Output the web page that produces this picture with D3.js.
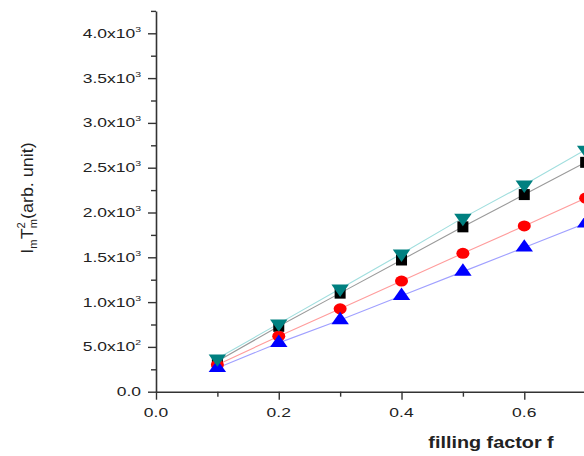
<!DOCTYPE html>
<html><head><meta charset="utf-8">
<script src="https://cdn.jsdelivr.net/npm/d3@7/dist/d3.min.js"></script>
<style>body{margin:0;background:#fff}svg{display:block}text{font-family:"Liberation Sans",Arial,sans-serif;fill:#222}</style>
</head><body><svg id="c" width="584" height="456"></svg>
<script>
const fValues = [0.1, 0.2, 0.3, 0.4, 0.5, 0.6, 0.7];
const seriesSquare = [340, 730, 1100, 1470, 1840, 2200, 2560];
const seriesCircle = [300, 620, 925, 1235, 1545, 1850, 2160];
const seriesTriUp = [265, 545, 800, 1070, 1340, 1610, 1880];
const seriesTriDown = [370, 760, 1150, 1540, 1940, 2310, 2700];
const xTickValues = [0.0, 0.2, 0.4, 0.6];
const xTickLabels = ["0.0", "0.2", "0.4", "0.6"];
const yTickValues = [0, 500, 1000, 1500, 2000, 2500, 3000, 3500, 4000];
const yTickMant = ["0.0", "5.0x10", "1.0x10", "1.5x10", "2.0x10", "2.5x10", "3.0x10", "3.5x10", "4.0x10"];
const yTickExp = ["", "2", "3", "3", "3", "3", "3", "3", "3"];

const svg = d3.select("#c");
const x0 = 156, y0 = 391.7;
const x = d3.scaleLinear().domain([0, 0.75]).range([x0, x0 + 0.75 * 613.8]);
const y = d3.scaleLinear().domain([0, 4250]).range([y0, y0 - 4.25 * 89.6]);

const axisColor = "#333";
const xAxis = d3.axisBottom(x).tickValues(d3.range(0, 0.75, 0.1)).tickSize(0).tickFormat("");
const gx = svg.append("g").attr("transform", `translate(0,${y0})`).call(xAxis);
gx.select(".domain").attr("stroke", axisColor).attr("stroke-width", 1.6);
gx.selectAll(".tick line").remove();
gx.selectAll(".tick").append("line").attr("stroke", axisColor).attr("stroke-width", 1.4)
  .attr("y2", (d, i) => i % 2 === 0 ? 8 : 5);

const yAxis = d3.axisLeft(y).tickValues(d3.range(0, 4251, 250)).tickSize(0).tickFormat("");
const gy = svg.append("g").attr("transform", `translate(${x0},0)`).call(yAxis);
gy.select(".domain").attr("stroke", axisColor).attr("stroke-width", 1.6);
gy.selectAll(".tick line").remove();
gy.selectAll(".tick").append("line").attr("stroke", axisColor).attr("stroke-width", 1.4)
  .attr("x2", (d, i) => i % 2 === 0 ? -8 : -5);

xTickValues.forEach((v, i) => {
  svg.append("text").attr("transform", `translate(${x(v)},${y0 + 25}) scale(1.4,1)`)
    .attr("text-anchor", "middle").attr("font-size", 12.5).text(xTickLabels[i]);
});
yTickValues.forEach((v, i) => {
  const t = svg.append("text").attr("transform", `translate(141,${y(v) + 4.5}) scale(1.4,1)`)
    .attr("text-anchor", "end").attr("font-size", 12.5);
  t.append("tspan").text(yTickMant[i]);
  if (yTickExp[i]) t.append("tspan").attr("font-size", 7.5).attr("dy", -6).text(yTickExp[i]);
});

svg.append("text").attr("transform", "translate(491,448) scale(1.2,1)")
  .attr("text-anchor", "middle").attr("font-size", 16.5).attr("font-weight", "bold").text("filling factor f");
const yl = svg.append("text").attr("transform", "translate(33,198) rotate(-90) scale(1.12,1)")
  .attr("text-anchor", "middle").attr("font-size", 16);
yl.append("tspan").text("I");
yl.append("tspan").attr("font-size", 10).attr("dy", 4).text("m");
yl.append("tspan").attr("dy", -4).text("T");
yl.append("tspan").attr("font-size", 10).attr("dy", -8).text("2");
yl.append("tspan").attr("font-size", 10).attr("dx", -5.5).attr("dy", 12).text("m");
yl.append("tspan").attr("dy", -4).text("(arb. unit)");

const series = [
  {vals: seriesSquare, line: "#9a9a9a", fill: "#000", kind: "square"},
  {vals: seriesCircle, line: "#ff9c9c", fill: "#ff0000", kind: "circle"},
  {vals: seriesTriUp, line: "#a0a0ff", fill: "#0000ff", kind: "up"},
  {vals: seriesTriDown, line: "#a0dede", fill: "#008080", kind: "down"}
];
const line = d3.line().x(d => x(d[0])).y(d => y(d[1]));
series.forEach(s => {
  svg.append("path").datum(fValues.map((f, i) => [f, s.vals[i]]))
    .attr("d", line).attr("fill", "none").attr("stroke", s.line).attr("stroke-width", 1.1);
});
series.forEach(s => {
  const g = svg.append("g");
  fValues.forEach((f, i) => {
    const px = x(f), py = y(s.vals[i]);
    if (s.kind === "square") {
      g.append("rect").attr("x", px - 5.5).attr("y", py - 5.5).attr("width", 11).attr("height", 11).attr("fill", s.fill);
    } else if (s.kind === "circle") {
      g.append("ellipse").attr("cx", px).attr("cy", py).attr("rx", 6.5).attr("ry", 5.5).attr("fill", s.fill);
    } else {
      const sym = d3.symbol().type(d3.symbolTriangle).size(105);
      g.append("path").attr("d", sym()).attr("fill", s.fill)
        .attr("transform", `translate(${px},${py}) ${s.kind === "down" ? "rotate(180)" : ""} scale(1.12,0.92)`);
    }
  });
});
</script></body></html>
